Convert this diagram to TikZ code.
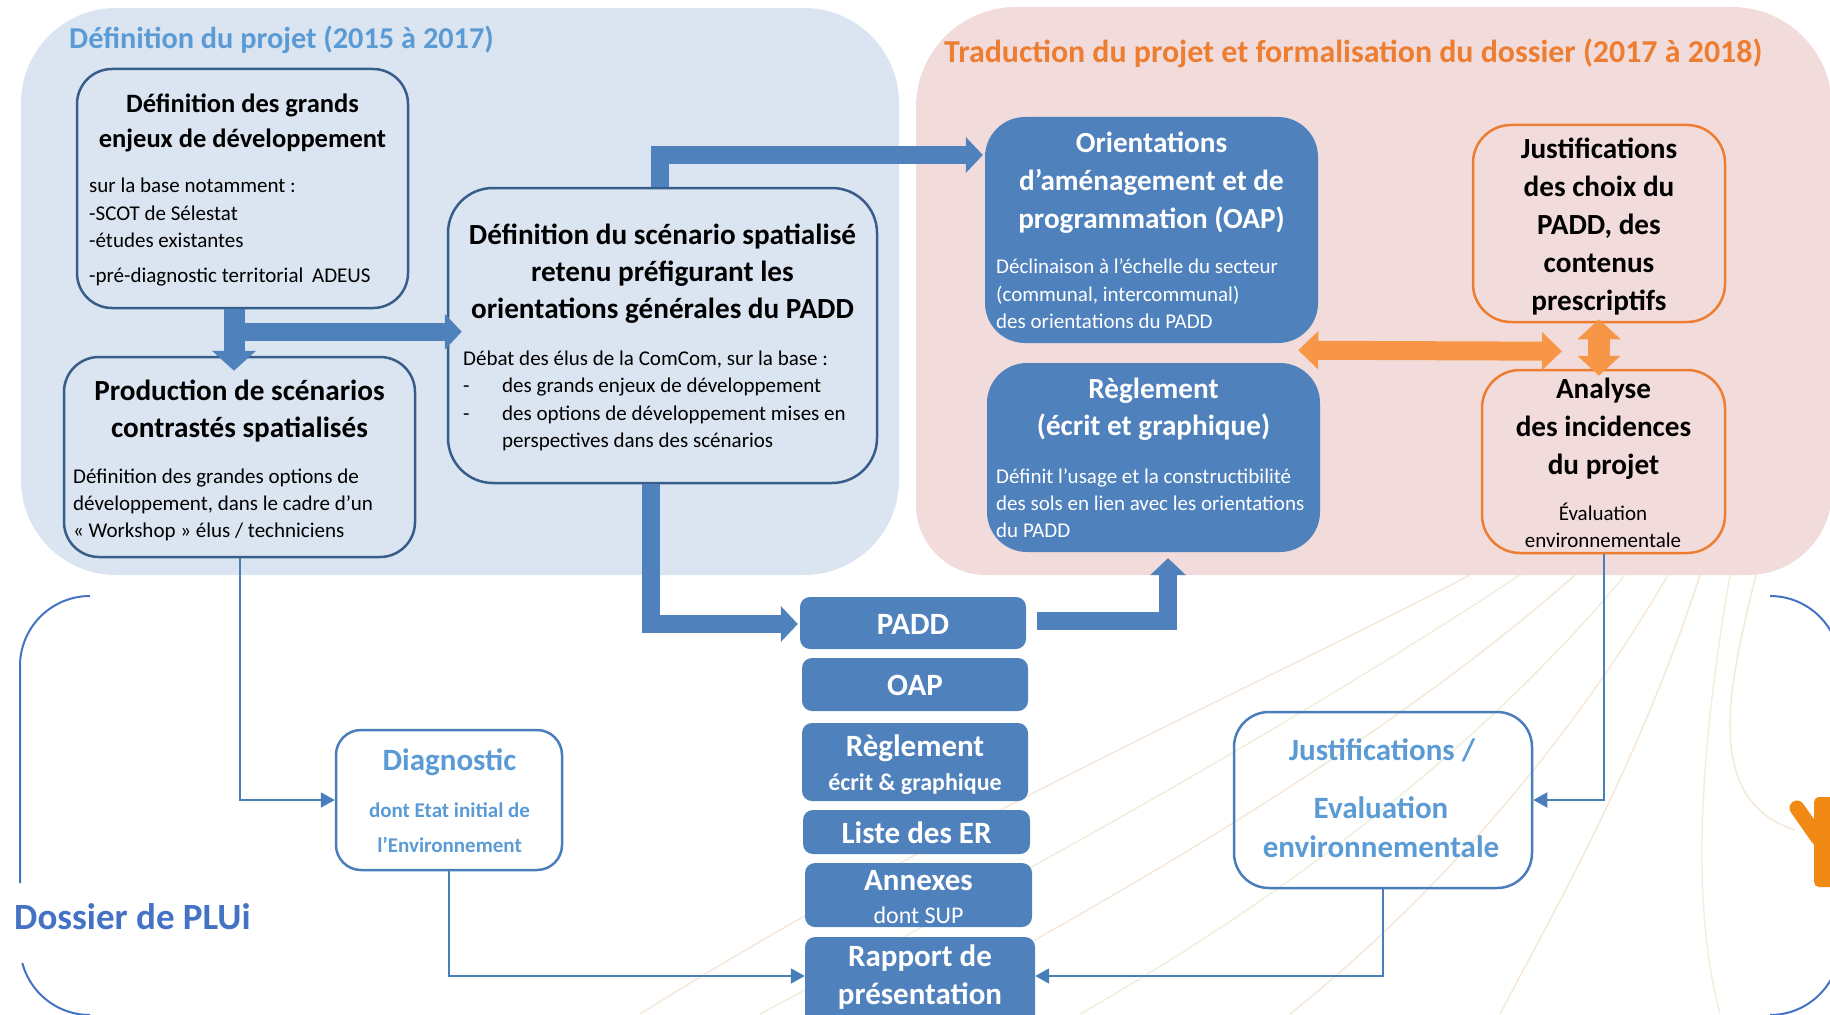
\documentclass[tikz,border=0pt]{standalone}
\usepackage{fontspec}
\setmainfont{Carlito}
\usetikzlibrary{arrows.meta,calc}
\definecolor{regblue}{RGB}{219,229,241}
\definecolor{regpink}{RGB}{242,220,219}
\definecolor{boxline}{RGB}{56,93,138}
\definecolor{accblue}{RGB}{79,129,189}
\definecolor{lightblue}{RGB}{91,155,213}
\definecolor{titleorange}{RGB}{237,125,49}
\definecolor{arroworange}{RGB}{247,150,70}
\definecolor{conblue}{RGB}{74,126,187}
\definecolor{plublue}{RGB}{68,114,196}
\definecolor{tanline}{RGB}{240,220,195}
\definecolor{greenline}{RGB}{226,233,200}
\definecolor{yorange}{RGB}{240,138,20}
\begin{document}
\begin{tikzpicture}[x=1pt,y=-1pt,
  bbox/.style={draw=boxline,line width=2.5pt,fill=regblue,inner sep=0pt},
  obox/.style={draw=titleorange,line width=2.5pt,inner sep=0pt},
  fbox/.style={fill=accblue,inner sep=0pt},
  cbox/.style={draw=conblue,line width=2.5pt,inner sep=0pt},
  ttlA/.style={anchor=base,inner sep=0pt,font=\fontsize{26.5}{31}\selectfont\bfseries},
  ttl/.style={anchor=base,inner sep=0pt,font=\fontsize{29.2}{35}\selectfont\bfseries},
  wttl/.style={ttl,text=white},
  bdy/.style={anchor=base west,inner sep=0pt,font=\fontsize{21}{25}\selectfont},
  wbdy/.style={bdy,text=white},
  mid/.style={anchor=base,inner sep=0pt,text=white,font=\fontsize{31}{37}\selectfont\bfseries},
  btxt/.style={anchor=base,inner sep=0pt,text=lightblue,font=\fontsize{31}{37}\selectfont\bfseries},
  thickblue/.style={draw=accblue,line width=18pt,line join=miter,-{Triangle[length=17pt,width=35pt]}},
  thinarrow/.style={draw=conblue,line width=2pt,-{Triangle[length=14pt,width=15pt]}},
  frameline/.style={draw=plublue,line width=2pt},
  faint/.style={line width=1.5pt,opacity=0.65}
]
\useasboundingbox (0,0) rectangle (1830,1014);
\clip (0,0) rectangle (1830,1014);

% faint background drawing
\draw[faint,tanline] (1470,575) .. controls (1250,690) and (950,820) .. (640,1014);
\draw[faint,greenline] (1520,575) .. controls (1300,720) and (1050,860) .. (760,1014);
\draw[faint,tanline] (1575,575) .. controls (1400,730) and (1150,880) .. (900,1014);
\draw[faint,greenline] (1625,575) .. controls (1480,750) and (1280,900) .. (1080,1014);
\draw[faint,tanline] (1668,575) .. controls (1560,760) and (1420,910) .. (1290,1014);
\draw[faint,tanline] (1700,575) .. controls (1640,760) and (1560,900) .. (1500,1014);
\draw[faint,tanline] (1756,575) .. controls (1730,680) and (1700,800) .. (1795,830);
\draw[faint,greenline] (1730,575) .. controls (1700,750) and (1690,900) .. (1720,1014);

% regions
\fill[regblue,rounded corners=95pt] (21,8) rectangle (899,575);
\fill[regpink] (916,300) [rounded corners=100pt] -- (916,7) [rounded corners=100pt] -- (1832,7) [rounded corners=84pt] -- (1832,575) [rounded corners=70pt] -- (916,575) [rounded corners=100pt] -- cycle;

% Dossier frame
\draw[frameline,rounded corners=70pt] (20,883) -- (20,596) -- (90,596);
\begin{scope}
\clip (0,963) rectangle (300,1014);
\draw[frameline,rounded corners=70pt] (20,883) -- (20,1015) -- (90,1015);
\end{scope}
\draw[frameline,rounded corners=70pt] (1770,596) -- (1840,596) -- (1840,1015) -- (1770,1015);

% orange Y shape
\draw[yorange,line width=15pt,line cap=round] (1797,808) -- (1818,838);
\fill[yorange,rounded corners=5pt] (1814,797) rectangle (1850,887);

% titles
\node[anchor=base west,inner sep=0pt,text=lightblue,font=\fontsize{30.3}{36}\selectfont\bfseries] (T1) at (69,49) {Définition du projet (2015 à 2017)};
\node[anchor=base west,inner sep=0pt,text=titleorange,font=\fontsize{31.9}{38}\selectfont\bfseries] (T2) at (944,63) {Traduction du projet et formalisation du dossier (2017 à 2018)};

% Box A
\node[bbox,rounded corners=35pt,minimum width=331pt,minimum height=239pt] (A) at (242.5,188.5) {};
\foreach \s [count=\i] in {{Définition des grands},{enjeux de développement}}
  \node[ttlA] (At\i) at (242.5,{113+34*(\i-1)}) {\s};
\node[bdy] (Ab1) at (89,192) {sur la base notamment :};
\node[bdy] (Ab2) at (89,220) {-SCOT de Sélestat};
\node[bdy] (Ab3) at (89,247) {-études existantes};
\node[bdy] (Ab4) at (89,282) {-pré-diagnostic territorial\hspace{4pt} ADEUS};

% Box B
\node[bbox,rounded corners=35pt,minimum width=351pt,minimum height=200pt] (B) at (239.5,457) {};
\foreach \s [count=\i] in {{Production de scénarios},{contrastés spatialisés}}
  \node[ttl] (Bt\i) at (239.5,{400+37*(\i-1)}) {\s};
\foreach \s [count=\i] in {{Définition des grandes options de},{développement, dans le cadre d’un},{« Workshop » élus / techniciens}}
  \node[bdy] (Bb\i) at (73,{483.8+26.9*(\i-1)}) {\s};

% Box C
\node[bbox,rounded corners=45pt,minimum width=429pt,minimum height=295pt] (C) at (662.5,335.5) {};
\foreach \s [count=\i] in {{Définition du scénario spatialisé},{retenu préfigurant les},{orientations générales du PADD}}
  \node[ttl] (Ct\i) at (662.5,{244+37.4*(\i-1)}) {\s};
\node[bdy] (Cb1) at (463,365.7) {Débat des élus de la ComCom, sur la base :};
\node[bdy] (Cd2) at (463,392.7) {-};
\node[bdy] (Cd3) at (463,420.7) {-};
\node[bdy] (Cb2) at (502,392.7) {des grands enjeux de développement};
\node[bdy] (Cb3) at (502,420.7) {des options de développement mises en};
\node[bdy] (Cb4) at (502,447.7) {perspectives dans des scénarios};

% OAP box
\node[fbox,rounded corners=40pt,minimum width=333pt,minimum height=226pt] (D) at (1151.5,230) {};
\foreach \s [count=\i] in {{Orientations},{d’aménagement et de},{programmation (OAP)}}
  \node[wttl] (Dt\i) at (1151.5,{152.3+38*(\i-1)}) {\s};
\foreach \s [count=\i] in {{Déclinaison à l’échelle du secteur},{(communal, intercommunal)},{des orientations du PADD}}
  \node[wbdy] (Db\i) at (996,{273.8+27.5*(\i-1)}) {\s};

% Reglement box
\node[fbox,rounded corners=40pt,minimum width=333pt,minimum height=189pt] (E) at (1153.5,457.5) {};
\foreach \s [count=\i] in {{Règlement},{(écrit et graphique)}}
  \node[wttl] (Et\i) at (1153.5,{398.8+37*(\i-1)}) {\s};
\foreach \s [count=\i] in {{Définit l’usage et la constructibilité},{des sols en lien avec les orientations},{du PADD}}
  \node[wbdy] (Eb\i) at (996,{483.2+27.3*(\i-1)}) {\s};

% Justifications box
\node[obox,rounded corners=38pt,minimum width=252pt,minimum height=197pt] (F) at (1599,223.5) {};
\foreach \s [count=\i] in {{Justifications},{des choix du},{PADD, des},{contenus},{prescriptifs}}
  \node[ttl] (Ft\i) at (1599,{158.3+38*(\i-1)}) {\s};

% Analyse box
\node[obox,rounded corners=38pt,minimum width=243pt,minimum height=183pt] (G) at (1603.5,461.5) {};
\foreach \s [count=\i] in {{Analyse},{des incidences},{du projet}}
  \node[ttl] (Gt\i) at (1603.5,{398.8+38*(\i-1)}) {\s};
\node[anchor=base,inner sep=0pt,font=\fontsize{21}{25}\selectfont] (Gb1) at (1603,520.5) {Évaluation};
\node[anchor=base,inner sep=0pt,font=\fontsize{21}{25}\selectfont] (Gb2) at (1603,547.2) {environnementale};

% middle column
\node[fbox,rounded corners=10pt,minimum width=226pt,minimum height=52pt] (P) at (913,623) {};
\node[mid] (Pt) at (913,634) {PADD};
\node[fbox,rounded corners=10pt,minimum width=226pt,minimum height=53pt] (O) at (915,684.5) {};
\node[mid] (Ot) at (915,695) {OAP};
\node[fbox,rounded corners=10pt,minimum width=226pt,minimum height=78pt] (R) at (915,762) {};
\node[mid] (Rt1) at (915,756.7) {Règlement};
\node[mid,font=\fontsize{24}{29}\selectfont\bfseries] (Rt2) at (915,790.7) {écrit \& graphique};
\node[fbox,rounded corners=10pt,minimum width=227pt,minimum height=44pt] (L) at (916.5,832) {};
\node[mid] (Lt) at (916.5,843.3) {Liste des ER};
\node[fbox,rounded corners=10pt,minimum width=227pt,minimum height=64pt] (X) at (918.5,895) {};
\node[mid] (Xt1) at (918.5,890) {Annexes};
\node[mid,font=\fontsize{24}{29}\selectfont] (Xt2) at (918.5,923.3) {dont SUP};
\node[fbox,rounded corners=10pt,minimum width=230pt,minimum height=108pt] (RP) at (920,991) {};
\node[mid] (RPt1) at (920,966.7) {Rapport de};
\node[mid] (RPt2) at (920,1004) {présentation};

% Diagnostic box
\node[cbox,rounded corners=25pt,minimum width=226pt,minimum height=140pt] (Diag) at (449,800) {};
\node[btxt] (Dg1) at (449.5,770) {Diagnostic};
\node[btxt,font=\fontsize{21}{25}\selectfont\bfseries] (Dg2) at (449.5,817.3) {dont Etat initial de};
\node[btxt,font=\fontsize{21}{25}\selectfont\bfseries] (Dg3) at (449.5,852.7) {l’Environnement};

% Justifications / Evaluation box
\node[cbox,rounded corners=35pt,minimum width=298pt,minimum height=176pt] (JE) at (1383,800) {};
\node[btxt] (JE1) at (1382,760.5) {Justifications /};
\node[btxt] (JE2) at (1381,818.8) {Evaluation};
\node[btxt] (JE3) at (1381,857.8) {environnementale};

\node[anchor=base west,inner sep=0pt,text=plublue,font=\fontsize{37}{44}\selectfont\bfseries] (PLU) at (14,929.3) {Dossier de PLUi};

% thick blue arrows
\draw[thickblue,line width=21pt,-{Triangle[length=20pt,width=43pt]}] ($(A.south)+(-8.5,0)$) -- ($(B.north)+(-5.5,15)$);
\coordinate (j1) at ($(A.south)+(-8.5,22.5)$);
\coordinate (c1) at ($(C.west)+(15,0)$);
\draw[thickblue] (j1) -- (j1 -| c1);
\draw[thickblue] ($(C.north)+(-2.5,0)$) |- ($(D.west)+(-2,-75)$);
\draw[thickblue] ($(C.south)+(-11.5,0)$) |- ($(P.west)+(-2,1)$);
\draw[thickblue] ($(P.east)+(11,-2)$) -| ($(E.south)+(14.5,6)$);

% orange arrows
\draw[draw=arroworange,line width=19pt,{Triangle[length=20pt,width=37pt]}-{Triangle[length=20pt,width=37pt]}] ($(D.south east)+(-20,7)$) -- ($(F.south)+(-37,28)$);
\draw[draw=arroworange,line width=22pt,{Triangle[length=20pt,width=42pt]}-{Triangle[length=20pt,width=42pt]}] ($(F.south)+(0,-4)$) -- ($(G.north)+(-4.5,7)$);

% thin connectors
\draw[thinarrow] (B.south) |- (Diag.west);
\draw[thinarrow] (Diag.south) |- ($(RP.west)+(0,-15)$);
\draw[thinarrow] (G.south) |- (JE.east);
\draw[thinarrow] (JE.south) |- ($(RP.east)+(0,-15)$);
\end{tikzpicture}
\end{document}
